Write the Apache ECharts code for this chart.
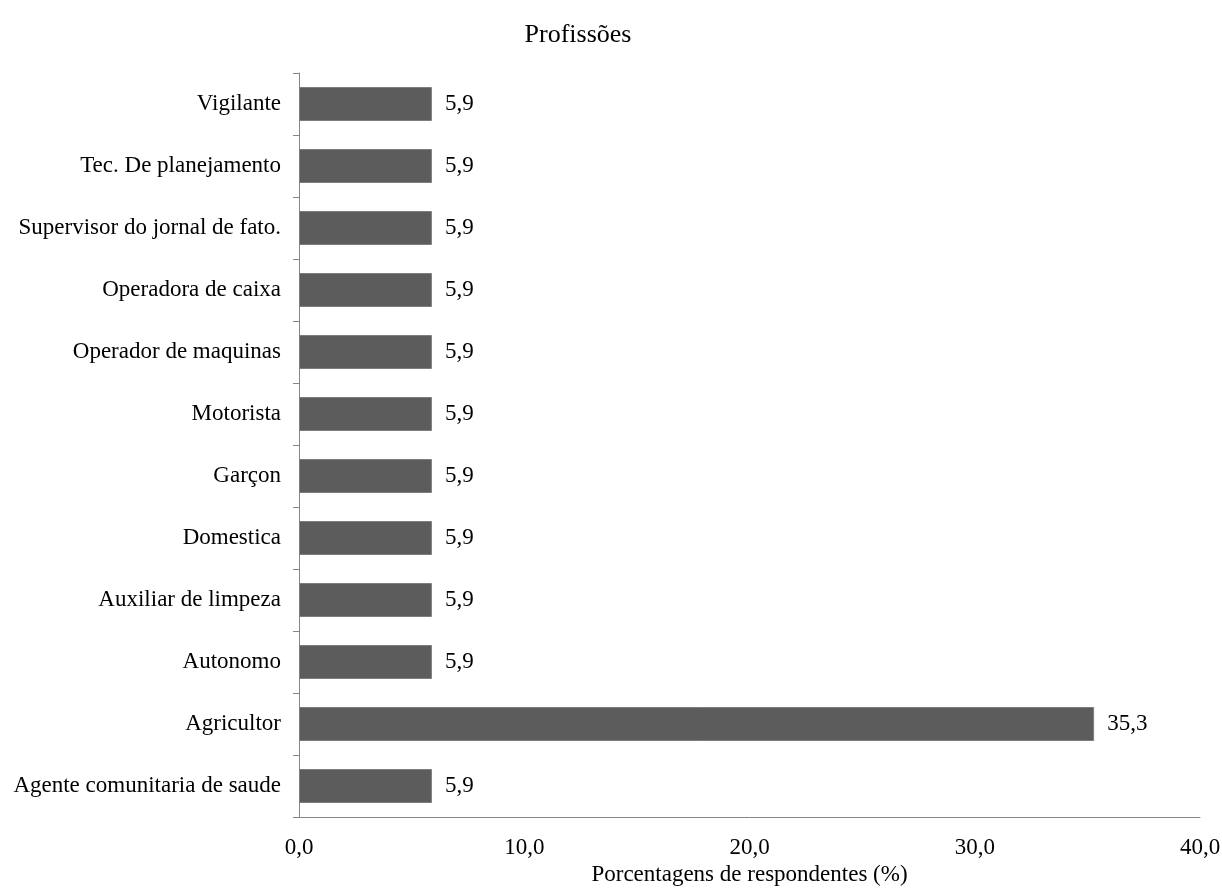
<!DOCTYPE html>
<html><head><meta charset="utf-8">
<script src="https://cdn.jsdelivr.net/npm/echarts@6/dist/echarts.min.js"></script>
<style>html,body{margin:0;padding:0;background:#fff}#c{width:1222px;height:888px}</style>
</head><body><div id="c"></div>
<script>
const categories = ["Agente comunitaria de saude","Agricultor","Autonomo","Auxiliar de limpeza","Domestica","Garçon","Motorista","Operador de maquinas","Operadora de caixa","Supervisor do jornal de fato.","Tec. De planejamento","Vigilante"];
const values = [5.9,35.3,5.9,5.9,5.9,5.9,5.9,5.9,5.9,5.9,5.9,5.9];
const xTicks = {min:0,max:40,interval:10};
const font = '"Liberation Serif","Times New Roman",serif';
const chart = echarts.init(document.getElementById('c'));
chart.setOption({
  animation:false,
  title:{text:'Profissões',left:573,top:17,textAlign:'center',textStyle:{fontFamily:font,fontSize:26,fontWeight:'normal',color:'#000'}},
  grid:{left:299,right:22,top:73,bottom:71,containLabel:false,outerBoundsMode:'none'},
  xAxis:{type:'value',min:xTicks.min,max:xTicks.max,interval:xTicks.interval,
    name:'Porcentagens de respondentes (%)',nameLocation:'middle',nameGap:46,
    nameTextStyle:{fontFamily:font,fontSize:23,color:'#000'},
    axisLine:{show:true,lineStyle:{color:'#868686',width:1}},axisTick:{show:false},
    splitLine:{show:false},
    axisLabel:{fontFamily:font,fontSize:23,color:'#000',margin:19,formatter:v=>v.toFixed(1).replace('.',',')}},
  yAxis:{type:'category',data:categories,
    axisLine:{show:true,lineStyle:{color:'#868686',width:1}},
    axisTick:{show:true,length:6,lineStyle:{color:'#868686'}},
    axisLabel:{fontFamily:font,fontSize:23,color:'#000',margin:18}},
  series:[{type:'bar',data:values,barWidth:34,
    itemStyle:{color:'#5c5c5c',borderColor:'#7e7e7e',borderWidth:1},
    label:{show:true,position:'right',distance:13,fontFamily:font,fontSize:23,color:'#000',
      formatter:p=>p.value.toFixed(1).replace('.',',')}}]
});
</script></body></html>
